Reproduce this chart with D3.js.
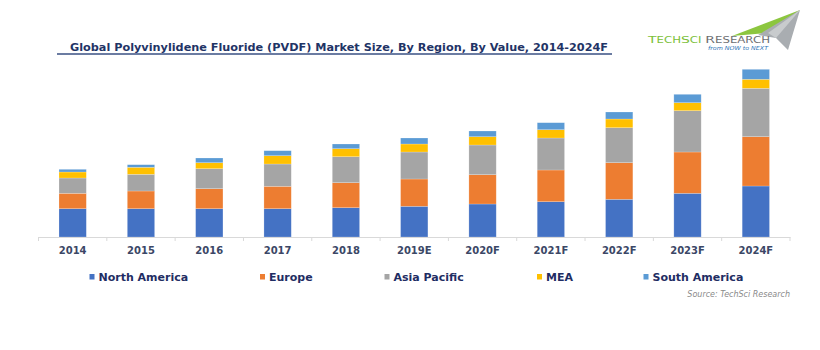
<!DOCTYPE html>
<html>
<head>
<meta charset="utf-8">
<script src="https://cdn.jsdelivr.net/npm/d3@7"></script>
<style>
  html, body { margin: 0; padding: 0; background: #ffffff; }
  svg { display: block; }
</style>
</head>
<body>
<svg id="chart" width="820" height="350"></svg>
<script>
// ---- data (arbitrary units) ----
const categories = ["2014","2015","2016","2017","2018","2019E","2020F","2021F","2022F","2023F","2024F"];
const northAmerica = [28.3, 28.3, 28.3, 28.3, 29.3, 30.7, 33.0, 35.3, 37.7, 43.7, 51.0];
const europe       = [15.4, 17.7, 20.0, 22.4, 25.0, 27.3, 29.3, 31.7, 36.6, 41.3, 49.3];
const asiaPacific  = [15.3, 16.7, 20.0, 22.3, 26.0, 27.0, 29.7, 32.0, 35.0, 41.3, 48.4];
const mea          = [ 6.0,  7.0,  6.0,  8.3,  8.0,  8.0,  8.3,  8.3,  8.7,  8.0,  9.0];
const southAmerica = [ 2.7,  2.6,  4.7,  5.0,  4.7,  6.0,  5.7,  7.0,  7.0,  8.4, 10.0];
const seriesNames  = ["North America","Europe","Asia Pacific","MEA","South America"];
const seriesColors = ["#4472c4","#ed7d31","#a5a5a5","#ffc000","#5b9bd5"];
const titleText  = "Global Polyvinylidene Fluoride (PVDF) Market Size, By Region, By Value, 2014-2024F";
const sourceText = "Source: TechSci Research";

// ---- build table ----
const seriesValues = [northAmerica, europe, asiaPacific, mea, southAmerica];
const keys = seriesNames;
const table = categories.map((c, i) => {
  const row = { cat: c };
  keys.forEach((k, j) => row[k] = seriesValues[j][i]);
  return row;
});
const stack = d3.stack().keys(keys)(table);

const svg = d3.select("#chart");
const baseY = 237;

const x = d3.scaleBand().domain(categories).range([38.5, 790]).paddingInner(0.6).paddingOuter(0.3);
const y = d3.scaleLinear().domain([0, 170]).range([baseY, baseY - 170]);
const color = d3.scaleOrdinal().domain(keys).range(seriesColors);

// ---- title ----
svg.append("line")
  .attr("x1", 57).attr("x2", 612).attr("y1", 54).attr("y2", 54)
  .attr("stroke", "#3a5183").attr("stroke-width", 1.4);
svg.append("text")
  .attr("x", 70).attr("y", 50.5)
  .attr("font-family", "DejaVu Sans, Verdana, sans-serif")
  .attr("font-weight", "bold")
  .attr("font-size", 11)
  .attr("fill", "#1f3466")
  .attr("textLength", 538)
  .attr("lengthAdjust", "spacingAndGlyphs")
  .text(titleText);

// ---- logo (decoration) ----
const logo = svg.append("g");
logo.append("polygon").attr("points", "732,36 800,10 768,33").attr("fill", "#8cc63f");
logo.append("polygon").attr("points", "758,35 800,10 788,50 776,38").attr("fill", "#a9adb1");
logo.append("polygon").attr("points", "768,33 800,10 776,38").attr("fill", "#c8cbcd");
const lt = logo.append("text")
  .attr("x", 648).attr("y", 43)
  .attr("font-family", "DejaVu Sans, sans-serif")
  .attr("font-size", 8)
  .attr("textLength", 122)
  .attr("lengthAdjust", "spacingAndGlyphs");
lt.append("tspan").attr("fill", "#7cbf3a").attr("font-size", 9.5).text("T");
lt.append("tspan").attr("fill", "#7cbf3a").text("ECH");
lt.append("tspan").attr("fill", "#7cbf3a").attr("font-size", 9.5).text("S");
lt.append("tspan").attr("fill", "#7cbf3a").text("CI ");
lt.append("tspan").attr("fill", "#6d6e71").attr("font-size", 9.5).text("R");
lt.append("tspan").attr("fill", "#6d6e71").text("ESEARCH");
logo.append("text")
  .attr("x", 708).attr("y", 50)
  .attr("font-family", "DejaVu Sans, sans-serif")
  .attr("font-style", "italic")
  .attr("font-size", 5.5)
  .attr("fill", "#2e75b6")
  .attr("textLength", 60)
  .attr("lengthAdjust", "spacingAndGlyphs")
  .text("from NOW to NEXT");

// ---- bars ----
svg.append("g").selectAll("g")
  .data(stack)
  .join("g")
  .attr("fill", d => color(d.key))
  .selectAll("rect")
  .data(d => d)
  .join("rect")
  .attr("x", d => x(d.data.cat))
  .attr("width", x.bandwidth())
  .attr("y", d => y(d[1]))
  .attr("height", d => y(d[0]) - y(d[1]))
  .attr("stroke", "#ffffff")
  .attr("stroke-opacity", 0.35)
  .attr("stroke-width", 0.6);

// ---- x axis ----
const axis = svg.append("g").attr("transform", `translate(0,${baseY})`)
  .call(d3.axisBottom(x).tickSize(0).tickPadding(10));
axis.select(".domain").attr("stroke", "#d9d9d9").attr("stroke-width", 1);
axis.selectAll("text")
  .attr("font-family", "DejaVu Sans, Verdana, sans-serif")
  .attr("font-weight", "bold")
  .attr("font-size", 10)
  .attr("fill", "#3b4766");
// category boundary tick marks
const bounds = d3.range(categories.length + 1).map(i => x.range()[0] + i * x.step());
axis.selectAll(".bound").data(bounds).join("line")
  .attr("class", "bound")
  .attr("x1", d => d).attr("x2", d => d)
  .attr("y1", 0).attr("y2", 4)
  .attr("stroke", "#d9d9d9");

// ---- legend ----
const legendX = [89.5, 260, 384.5, 537, 643.5];
const legend = svg.append("g");
const li = legend.selectAll("g").data(keys).join("g")
  .attr("transform", (d, i) => `translate(${legendX[i]},0)`);
li.append("rect")
  .attr("x", 0).attr("y", 274).attr("width", 5).attr("height", 5.5)
  .attr("fill", d => color(d));
li.append("text")
  .attr("x", 9).attr("y", 281)
  .attr("font-family", "DejaVu Sans, Verdana, sans-serif")
  .attr("font-weight", "bold")
  .attr("font-size", 11)
  .attr("fill", "#1f2d63")
  .text(d => d);

// ---- source ----
svg.append("text")
  .attr("x", 790).attr("y", 297)
  .attr("text-anchor", "end")
  .attr("font-family", "DejaVu Sans, Verdana, sans-serif")
  .attr("font-style", "italic")
  .attr("font-size", 8)
  .attr("fill", "#8a8a8a")
  .text(sourceText);
</script>
</body>
</html>
